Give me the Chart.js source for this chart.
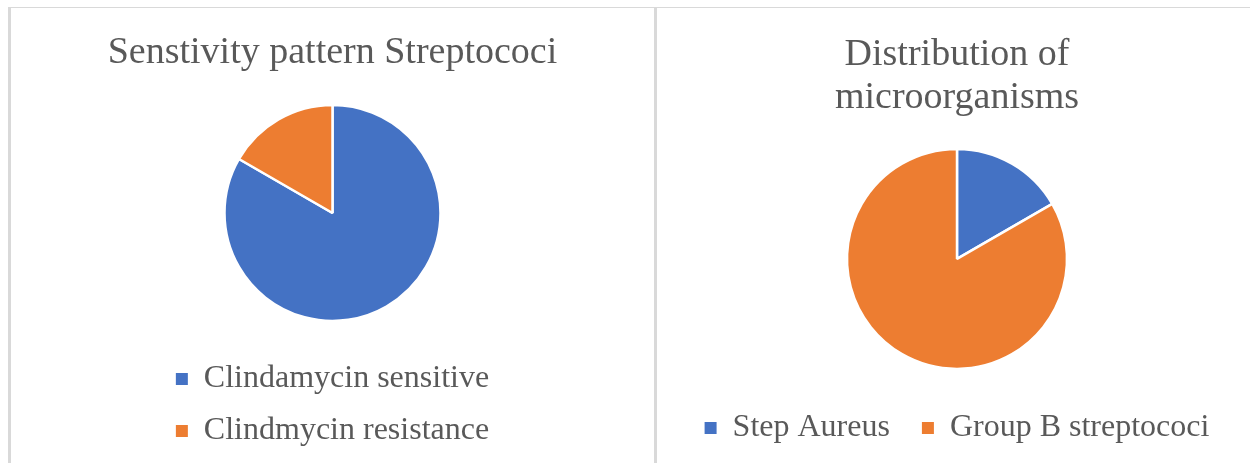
<!DOCTYPE html>
<html>
<head>
<meta charset="utf-8">
<script src="https://cdn.jsdelivr.net/npm/chart.js@4"></script>
<style>
  html, body { margin: 0; padding: 0; background: #fff; overflow: hidden; }
  body { width: 1250px; height: 463px; position: relative; }
  .topline { position: absolute; left: 8px; top: 7px; width: 1242px; height: 1px; background: #d9d9d9; }
  .lborder { position: absolute; left: 8px; top: 7px; width: 3px; height: 460px; background: #d9d9d9; }
  .divider { position: absolute; left: 654px; top: 7px; width: 3px; height: 460px; background: #d9d9d9; }
  #c1 { position: absolute; left: 11px; top: 8px; }
  #c2 { position: absolute; left: 657px; top: 8px; }
</style>
</head>
<body>
<div class="topline"></div>
<div class="lborder"></div>
<div class="divider"></div>
<canvas id="c1" width="643" height="455"></canvas>
<canvas id="c2" width="600" height="455"></canvas>
<script>
// left chart
const sensTitle = "Senstivity pattern Streptococi";
const sensLabels = ["Clindamycin sensitive", "Clindmycin resistance"];
const sensValues = [25, 5];

// right chart
const distTitle = ["Distribution of", "microorganisms"];
const distLabels = ["Step Aureus", "Group B streptococi"];
const distValues = [5, 25];

const colors = ["#4472C4", "#ED7D31"];
const textColor = "#595959";
const serif = "'Liberation Serif', 'Times New Roman', serif";

Chart.defaults.font.family = serif;
Chart.defaults.color = textColor;

// legend squares without the white slice border
function plainBoxes(chart) {
    const items = Chart.controllers.pie.overrides.plugins.legend.labels.generateLabels(chart);
    items.forEach(it => { it.lineWidth = 0; it.strokeStyle = it.fillStyle; });
    return items;
}

function makePie(id, title, labels, values, opts) {
    const ctx = document.getElementById(id).getContext("2d");
    return new Chart(ctx, {
        type: "pie",
        data: {
            labels: labels,
            datasets: [{
                data: values,
                backgroundColor: colors,
                borderColor: "#ffffff",
                borderWidth: 2.5,
                radius: opts.radius
            }]
        },
        options: {
            responsive: false,
            animation: false,
            layout: { padding: { bottom: opts.padBottom } },
            plugins: {
                title: {
                    display: true,
                    text: title,
                    color: textColor,
                    font: { size: 38, weight: "normal", lineHeight: 1.13 },
                    padding: { top: opts.titleTop, bottom: opts.titleBottom }
                },
                legend: {
                    position: "bottom",
                    labels: {
                        color: textColor,
                        font: { size: 32 },
                        boxWidth: 12,
                        boxHeight: 12,
                        padding: opts.legendPad,
                        generateLabels: plainBoxes
                    }
                },
                tooltip: { enabled: false }
            }
        }
    });
}

makePie("c1", sensTitle, sensLabels, sensValues,
    { radius: 108, titleTop: 24, titleBottom: 8, legendPad: 20, padBottom: 6 });
makePie("c2", distTitle, distLabels, distValues,
    { radius: 110, titleTop: 26, titleBottom: 18, legendPad: 32, padBottom: 9 });
</script>
</body>
</html>
